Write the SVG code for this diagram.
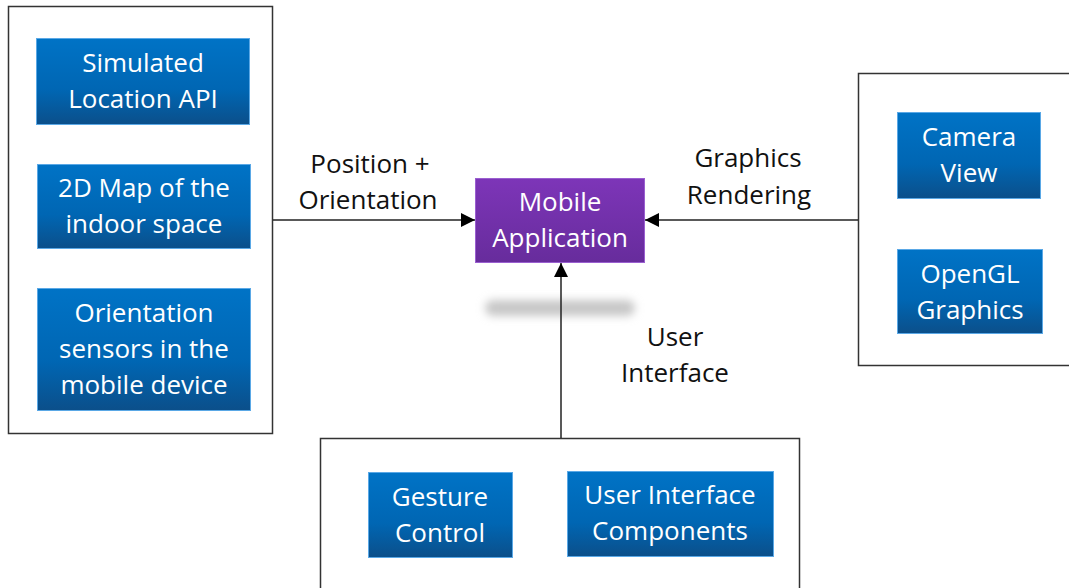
<svg xmlns="http://www.w3.org/2000/svg" width="1069" height="588" viewBox="0 0 1069 588">
<defs>
<linearGradient id="gBlue" x1="0" y1="0" x2="0" y2="1">
<stop offset="0" stop-color="#0073c6"/>
<stop offset="0.6" stop-color="#0066b3"/>
<stop offset="1" stop-color="#0b4f8a"/>
</linearGradient>
<linearGradient id="gPurple" x1="0" y1="0" x2="0" y2="1">
<stop offset="0" stop-color="#7d35b8"/>
<stop offset="1" stop-color="#672c9c"/>
</linearGradient>
<filter id="blur" x="-20%" y="-100%" width="140%" height="300%">
<feGaussianBlur stdDeviation="4"/>
</filter>
<marker id="arr" viewBox="0 0 10 10" refX="10" refY="5" markerWidth="14" markerHeight="14" markerUnits="userSpaceOnUse" orient="auto">
<path d="M0,0 L10,5 L0,10 z" fill="#000"/>
</marker>
</defs>
<style>
.cont{fill:#fff;stroke:#333;stroke-width:1.5}
.blue{fill:url(#gBlue);stroke:#5aa8e6;stroke-width:1}
.purple{fill:url(#gPurple);stroke:#9a5fd0;stroke-width:1}
.wt{font-family:"Open Sans","Noto Sans",sans-serif;font-size:26px;fill:#fff;text-anchor:middle}
.lb{font-family:"Open Sans","Noto Sans",sans-serif;font-size:26px;fill:#111;text-anchor:middle}
.conn{stroke:#222;stroke-width:1.5;fill:none;marker-end:url(#arr)}
</style>
<rect width="1069" height="588" fill="#fff"/>

<g id="left-group">
<rect class="cont" x="8.5" y="6.5" width="264" height="427"/>
</g>
<g id="simulated-location-api">
<rect class="blue" x="36.5" y="38.5" width="213" height="86"/>
<text class="wt" x="143" y="72">Simulated</text>
<text class="wt" x="143" y="108">Location API</text>
</g>
<g id="map-2d">
<rect class="blue" x="37.5" y="164.5" width="213" height="84"/>
<text class="wt" x="144" y="197">2D Map of the</text>
<text class="wt" x="144" y="233">indoor space</text>
</g>
<g id="orientation-sensors">
<rect class="blue" x="37.5" y="288.5" width="213" height="122"/>
<text class="wt" x="144" y="322">Orientation</text>
<text class="wt" x="144" y="358">sensors in the</text>
<text class="wt" x="144" y="394">mobile device</text>
</g>

<g id="right-group">
<rect class="cont" x="858.5" y="73.5" width="212" height="292"/>
</g>
<g id="camera-view">
<rect class="blue" x="897.5" y="112.5" width="143" height="86"/>
<text class="wt" x="969" y="146">Camera</text>
<text class="wt" x="969" y="182">View</text>
</g>
<g id="opengl-graphics">
<rect class="blue" x="897.5" y="249.5" width="145" height="84"/>
<text class="wt" x="970" y="283">OpenGL</text>
<text class="wt" x="970" y="319">Graphics</text>
</g>

<g id="bottom-group">
<rect class="cont" x="320.5" y="438.5" width="479" height="160"/>
</g>
<g id="gesture-control">
<rect class="blue" x="368.5" y="472.5" width="144" height="85"/>
<text class="wt" x="440" y="506">Gesture</text>
<text class="wt" x="440" y="542">Control</text>
</g>
<g id="ui-components">
<rect class="blue" x="567.5" y="471.5" width="206" height="85"/>
<text class="wt" x="670" y="504">User Interface</text>
<text class="wt" x="670" y="540">Components</text>
</g>

<g id="mobile-application">
<rect class="purple" x="475.5" y="178.5" width="169" height="84"/>
<text class="wt" x="560" y="211">Mobile</text>
<text class="wt" x="560" y="247">Application</text>
</g>

<rect x="485" y="300" width="150" height="16" rx="8" fill="#c8c8c8" filter="url(#blur)"/>

<g id="connectors">
<line class="conn" x1="273" y1="220" x2="475" y2="220"/>
<line class="conn" x1="858" y1="220" x2="645" y2="220"/>
<line class="conn" x1="561" y1="438" x2="561" y2="263"/>
<text class="lb" x="370" y="173">Position +</text>
<text class="lb" x="368" y="209">Orientation</text>
<text class="lb" x="748" y="167">Graphics</text>
<text class="lb" x="749" y="204">Rendering</text>
<text class="lb" x="675" y="346">User</text>
<text class="lb" x="675" y="382">Interface</text>
</g>
</svg>
